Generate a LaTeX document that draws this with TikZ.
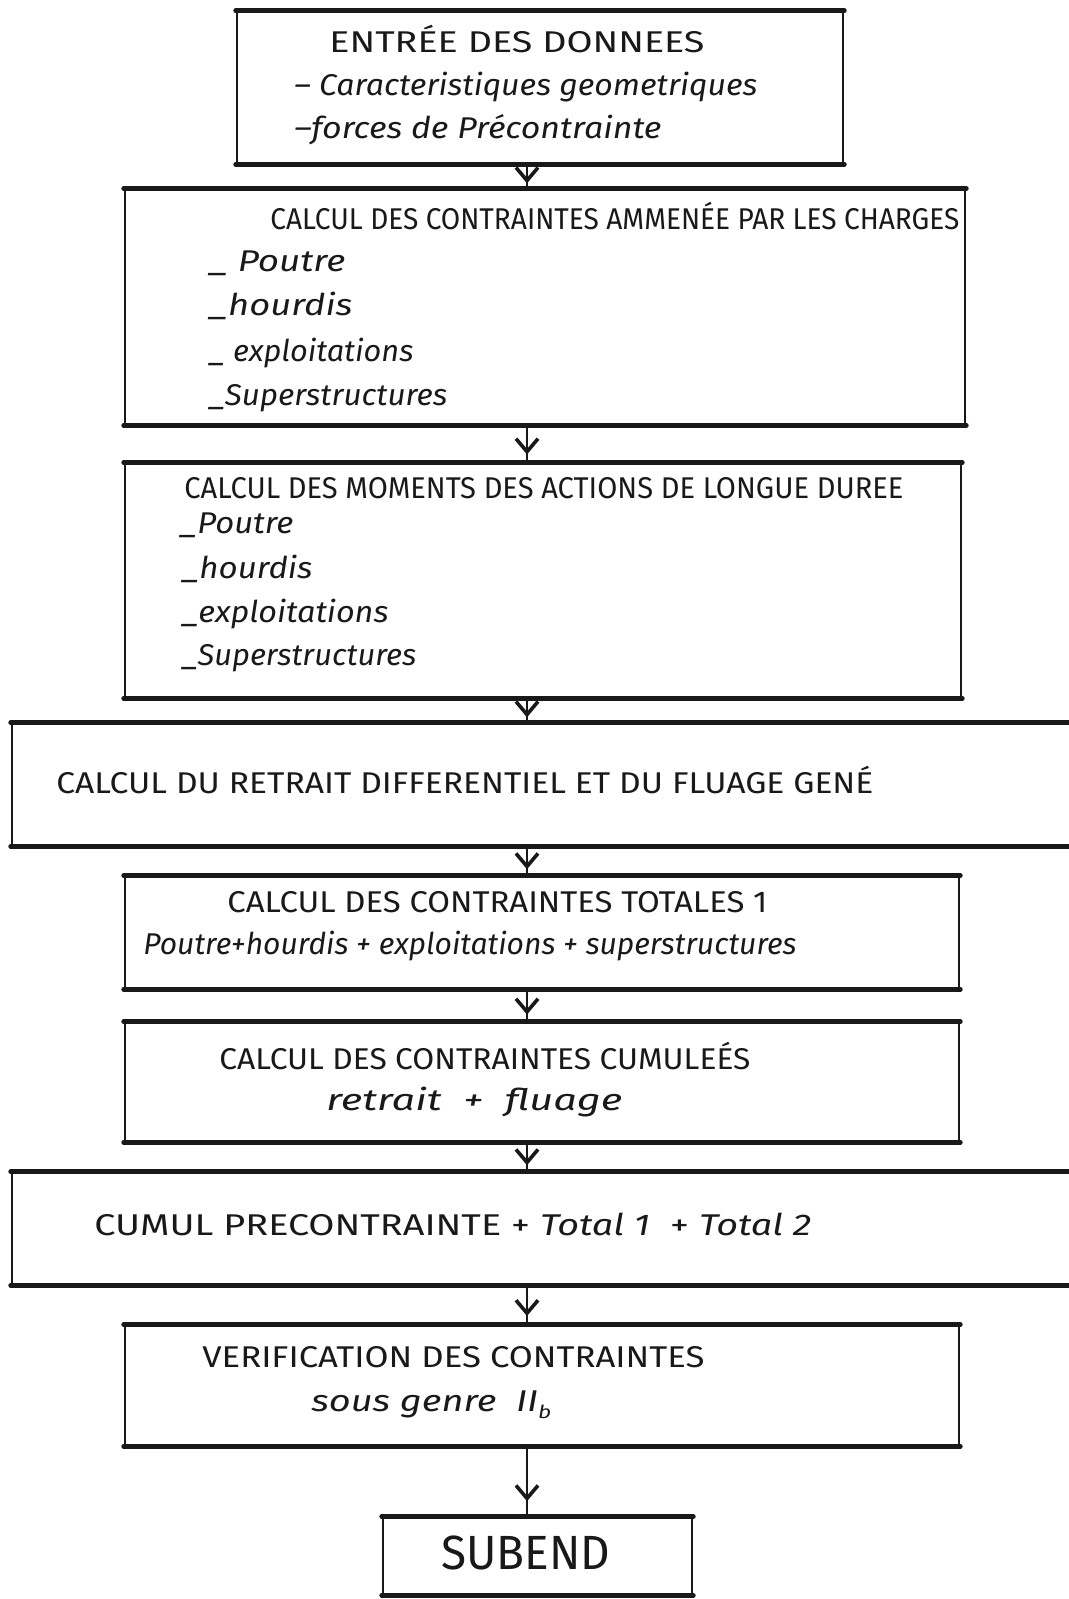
\documentclass[tikz,border=0pt]{standalone}
\usepackage{fontspec}
\usepackage{graphicx}
\setmainfont{Fira Sans}
\usetikzlibrary{arrows.meta,decorations.markings}
% stretch a line of text to a given width, keeping its height
\newcommand\hw[2]{\resizebox{#1}{\height}{#2}}
\tikzset{
  box/.style={draw=black!90, line width=1.3pt, inner sep=0pt, fill=none},
  edge/.style={draw=black!90, line width=2.4pt, line cap=round},
  txt/.style={anchor=west, inner sep=0pt, font=\fontsize{15}{17}\selectfont, text=black!90},
  itm/.style={txt, font=\fontsize{15}{17}\selectfont\itshape},
  conn/.style={draw=black!90, line width=0.9pt,
    postaction={decorate, decoration={markings,
      mark=at position 0.78 with {\arrow{Straight Barb[length=6.5pt,width=11pt,line width=1.8pt]}}}}}
}
\begin{document}
\begin{tikzpicture}[x=0.5pt,y=-0.5pt]
\useasboundingbox (0,0) rectangle (1069,1599);
\clip (0,0) rectangle (1069,1599);
\fill[white] (0,0) rectangle (1069,1599);
\coordinate (axis) at (527,0);

% boxes
\node[box, minimum width=303pt, minimum height=75.5pt] (b1) at (540,87.5) {};
\node[box, minimum width=420pt, minimum height=117pt] (b2) at (545,307) {};
\node[box, minimum width=418pt, minimum height=116.5pt] (b3) at (543,580.5) {};
\node[box, minimum width=539pt, minimum height=60.5pt] (b4) at (551,784.5) {};
\node[box, minimum width=417pt, minimum height=55.5pt] (b5) at (542,932.5) {};
\node[box, minimum width=417pt, minimum height=59pt] (b6) at (542,1082) {};
\node[box, minimum width=539pt, minimum height=55.5pt] (b7) at (551,1228.5) {};
\node[box, minimum width=417pt, minimum height=59.5pt] (b8) at (542,1385.5) {};
\node[box, minimum width=154.5pt, minimum height=38pt] (b9) at (537.5,1556) {};

% heavy top and bottom strokes
\foreach \b in {b1,b2,b3,b4,b5,b6,b7,b8,b9}{
  \draw[edge] (\b.north west) -- (\b.north east);
  \draw[edge] (\b.south west) -- (\b.south east);
}

% connectors
\draw[conn] (b1.south -| axis) -- (b2.north -| axis);
\draw[conn] (b2.south -| axis) -- (b3.north -| axis);
\draw[conn] (b3.south -| axis) -- (b4.north -| axis);
\draw[conn] (b4.south -| axis) -- (b5.north -| axis);
\draw[conn] (b5.south -| axis) -- (b6.north -| axis);
\draw[conn] (b6.south -| axis) -- (b7.north -| axis);
\draw[conn] (b7.south -| axis) -- (b8.north -| axis);
\draw[conn] (b8.south -| axis) -- (b9.north -| axis);

% texts
\node[txt] (t1a) at (329,39) {\hw{187.5pt}{ENTRÉE DES DONNEES}};
\node[itm] (t1b) at (294,87) {\hw{231.5pt}{– Caracteristiques geometriques}};
\node[itm] (t1c) at (294,130) {\hw{183.5pt}{–forces de Précontrainte}};

\node[txt] (t2a) at (270,216) {\hw{344.5pt}{CALCUL DES CONTRAINTES AMMENÉE PAR LES CHARGES}};
\node[itm] (t2b) at (209,263) {\hw{68pt}{\_ Poutre}};
\node[itm] (t2c) at (209,306) {\hw{71.5pt}{\_hourdis}};
\node[itm] (t2d) at (209,353) {\hw{102pt}{\_ exploitations}};
\node[itm] (t2e) at (209,398) {\hw{119pt}{\_Superstructures}};

\node[txt] (t3a) at (184,488) {\hw{359.5pt}{CALCUL DES MOMENTS DES ACTIONS DE LONGUE DUREE}};
\node[itm] (t3b) at (180,525) {\hw{56.5pt}{\_Poutre}};
\node[itm] (t3c) at (182,569) {\hw{65pt}{\_hourdis}};
\node[itm] (t3d) at (182,614) {\hw{103pt}{\_exploitations}};
\node[itm] (t3e) at (182,658) {\hw{117pt}{\_Superstructures}};

\node[txt] (t4) at (56,780) {\hw{408.5pt}{CALCUL DU RETRAIT DIFFERENTIEL ET DU FLUAGE GENÉ}};

\node[txt] (t5a) at (227,902) {\hw{270pt}{CALCUL DES CONTRAINTES TOTALES 1}};
\node[itm] (t5b) at (143,946) {\hw{326.5pt}{Poutre+hourdis + exploitations + superstructures}};

\node[txt] (t6a) at (219,1056) {\hw{265.5pt}{CALCUL DES CONTRAINTES CUMULEÉS}};
\node[itm] (t6b) at (326,1102) {\hw{148pt}{retrait \ + \ fluage}};

\node[txt] (t7) at (94,1224) {\hw{358.5pt}{CUMUL PRECONTRAINTE + \textit{Total 1} \ + \textit{Total 2}}};

\node[txt] (t8a) at (202,1357) {\hw{251pt}{VERIFICATION DES CONTRAINTES}};
\node[itm] (t8b) at (311,1405) {\hw{120pt}{sous genre \ II\raisebox{-0.45ex}{\small b}}};

\node[txt, font=\fontsize{24}{28}\selectfont] (t9) at (441,1553) {\hw{84.5pt}{SUBEND}};
\end{tikzpicture}
\end{document}
